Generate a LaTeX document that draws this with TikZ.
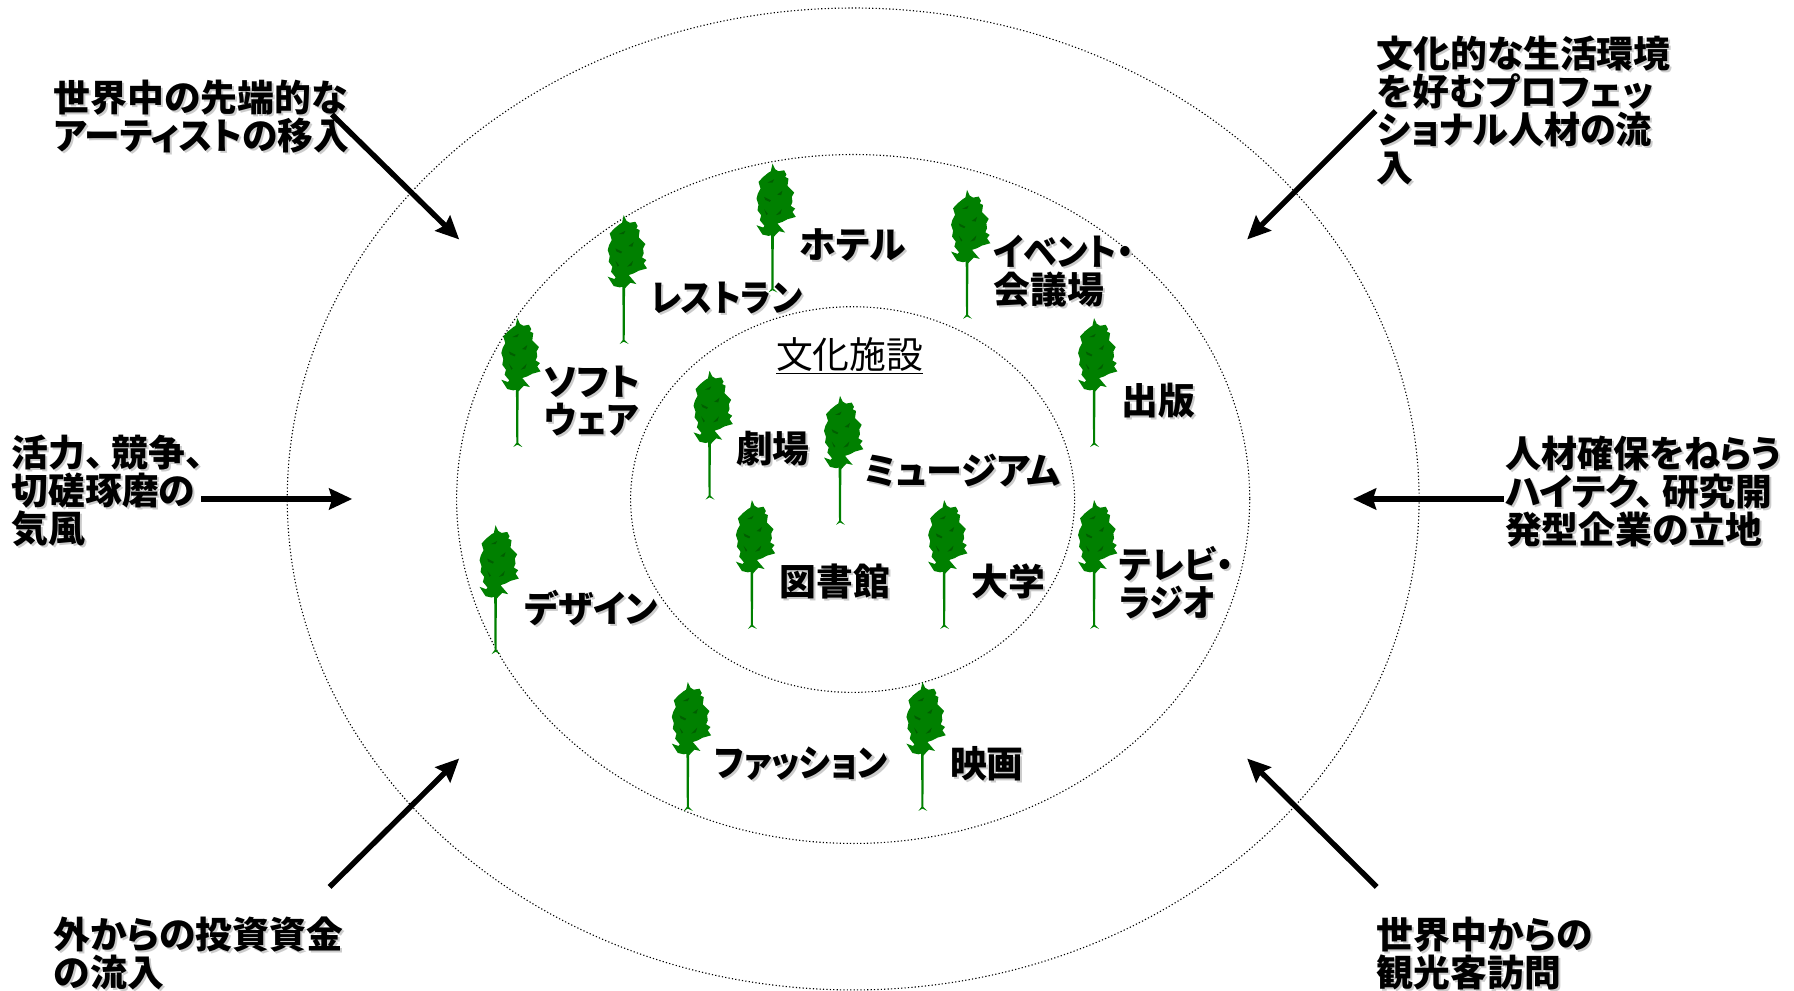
\documentclass[tikz,border=0pt]{standalone}
\usepackage{fontspec}
\usepackage{graphicx}
\usepackage{tikz}
\usetikzlibrary{arrows.meta, positioning}
\newfontfamily\jpfont[RawFeature=+palt]{Noto Sans CJK JP}
\definecolor{treegreen}{HTML}{008000}
\definecolor{treedark}{HTML}{005F00}
\newcommand{\shtext}[2][1]{\makebox[0pt][l]{\hspace{2pt}\raisebox{-2pt}{\textcolor{black!20}{\scalebox{#1}[1]{#2}}}}\scalebox{#1}[1]{#2}}
\newcommand{\tten}{、\hspace{8pt}}

\begin{document}
\begin{tikzpicture}[
  x=1.1444pt, y=-1.1444pt,
  ring/.style={draw, line width=1.1pt, dash pattern=on 1.2pt off 2.2pt},
  lbl/.style={anchor=west, inner sep=0pt, align=left, font=\jpfont\bfseries\fontsize{36.8}{38}\selectfont},
  title/.style={anchor=west, inner sep=0pt, font=\jpfont\fontsize{36.8}{38}\selectfont},
  flow/.style={->, line width=5.4pt, shorten >=-2pt},
  >={Stealth[length=23pt, width=21pt, inset=3pt]},
  tree/.pic={
    \fill[treegreen] (0,-385) -- (8,-368) -- (18,-362) -- (35,-365) -- (42,-352) -- (38,-345) -- (48,-340)
      -- (45,-318) -- (55,-308) -- (65,-298) -- (58,-285) -- (60,-270) -- (55,-258) -- (68,-250) -- (60,-240)
      -- (70,-225) -- (45,-218) -- (30,-210) -- (15,-205) -- (38,-178) -- (20,-182) -- (10,-172) -- (4,-165)
      -- (3,-10) -- (15,2) -- (0,-5) -- (-12,2) -- (-3,-10) -- (-4,-170) -- (-12,-168) -- (-30,-172) -- (-48,-200)
      -- (-28,-193) -- (-24,-198) -- (-38,-215) -- (-34,-230) -- (-45,-245) -- (-42,-262) -- (-48,-280)
      -- (-44,-295) -- (-36,-310) -- (-42,-330) -- (-28,-345) -- (-12,-358) -- (-5,-362) -- cycle;
    \fill[treedark] (-25,-285) -- (-5,-275) -- (-8,-270) -- (-22,-276) -- cycle;
    \fill[treedark] (10,-230) -- (28,-248) -- (24,-234) -- cycle;
    \fill[treedark] (-15,-328) -- (5,-338) -- (0,-328) -- cycle;
    \fill[treedark] (14,-292) -- (30,-304) -- (26,-290) -- cycle;
    \fill[treedark] (-25,-248) -- (-14,-234) -- (-18,-230) -- cycle;
  }
]
\useasboundingbox (0,0) rectangle (1567.6,865.1);
\fill[white] (0,0) rectangle (1567.6,865.1);

\draw[ring] (745.5,436) ellipse [x radius=494.5, y radius=429];
\draw[ring] (745.5,436) ellipse [x radius=346.5, y radius=301];
\draw[ring] (745,436.5) ellipse [x radius=194, y radius=168.5];

\foreach \tx/\ty in {675/255, 845/278, 545/300, 452/390, 956/390, 620/436, 734/458,
                     657/549, 825/549, 956/549, 433/571, 601/708, 806/708}
  \pic[scale=0.291] at (\tx,\ty) {tree};

\node[lbl] (artist) at (47,103) {\shtext{世界中の先端的な}\\\shtext[.97]{アーティストの移入}};
\node[lbl] (talent) at (1203,97) {\shtext{文化的な生活環境}\\\shtext{を好むプロフェッ}\\\shtext[.98]{ショナル人材の流}\\\shtext{入}};
\node[lbl] (vigor) at (10,430) {\shtext{活力\tten 競争\tten}\\\shtext{切磋琢磨の}\\\shtext{気風}};
\node[lbl] (hitech) at (1315,430) {\shtext[.98]{人材確保をねらう}\\\shtext{ハイテク\tten 研究開}\\\shtext{発型企業の立地}};
\node[lbl] (invest) at (47,834) {\shtext{外からの投資資金}\\\shtext{の流入}};
\node[lbl] (tourist) at (1203,834) {\shtext{世界中からの}\\\shtext{観光客訪問}};

\node[lbl] (hotel) at (698,215) {\shtext{ホテル}};
\node[lbl] (event) at (868,238) {\shtext[.92]{イベント・}\\\shtext{会議場}};
\node[lbl] (restaurant) at (568,261) {\shtext[.91]{レストラン}};
\node[lbl] (software) at (475,351) {\shtext{ソフト}\\\shtext[.93]{ウェア}};
\node[lbl] (publish) at (980,351) {\shtext{出版}};
\node[title] (culture) at (678,311) {\underline{文化施設}};
\node[lbl] (theater) at (643,393) {\shtext{劇場}};
\node[lbl] (museum) at (755,412) {\shtext[.98]{ミュージアム}};
\node[lbl] (library) at (681,509) {\shtext{図書館}};
\node[lbl] (college) at (849,509) {\shtext{大学}};
\node[lbl] (tvradio) at (978,510) {\shtext[.95]{テレビ・}\\\shtext[.92]{ラジオ}};
\node[lbl] (design) at (458,532) {\shtext[.97]{デザイン}};
\node[lbl] (fashion) at (624,668) {\shtext[.91]{ファッション}};
\node[lbl] (film) at (830,668) {\shtext{映画}};

\coordinate (artistS) at (290,100);
\coordinate (artistT) at (400,208);
\coordinate (talentS) at (1202,97);
\coordinate (talentT) at (1091,208);
\coordinate (vigorS) at (176,436);
\coordinate (vigorT) at (306,436);
\coordinate (hitechS) at (1314,436);
\coordinate (hitechT) at (1184,436);
\coordinate (investS) at (288,775);
\coordinate (investT) at (400,664);
\coordinate (touristS) at (1203,775);
\coordinate (touristT) at (1091,664);

\draw[flow] (artistS) -- (artistT);
\draw[flow] (talentS) -- (talentT);
\draw[flow] (vigorS) -- (vigorT);
\draw[flow] (hitechS) -- (hitechT);
\draw[flow] (investS) -- (investT);
\draw[flow] (touristS) -- (touristT);
\end{tikzpicture}
\end{document}
